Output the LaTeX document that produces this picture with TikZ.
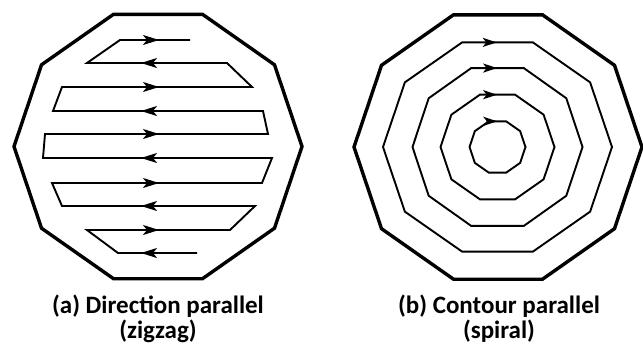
\documentclass[tikz,border=0pt]{standalone}
\usepackage{fontspec}
\setmainfont{Carlito}
\usetikzlibrary{arrows.meta,decorations.markings}

\begin{document}
\begin{tikzpicture}[
		x=1pt, y=-1pt,
		line join=miter,
		border/.style={line width=3.4pt},
		pass/.style={line width=1.9pt},
		flowtip/.style={
			line width=1.9pt,
			-{Stealth[length=16pt,width=10pt,inset=4pt]}
		},
		ringtip/.style={
			postaction={decorate},
			decoration={markings,
				mark=at position 0.05 with {\arrow{Stealth[length=14pt,width=9pt,inset=3.5pt]}}}
		},
		caption/.style={font=\bfseries\fontsize{25}{27}\selectfont, anchor=base}
	]
		\useasboundingbox (0,0) rectangle (643,343);

		\draw[border] plot[samples at={108,72,...,-216}]
			({158+144*cos(\x)},{146.5-139*sin(\x)}) -- cycle;
		\draw[pass] (197,253) -- (118,253) -- (87,230) -- (230,230)
			-- (255,206) -- (62,206) -- (52,183) -- (262,183)
			-- (272,158) -- (43,158) -- (45,134) -- (268,134)
			-- (263,111) -- (53,111) -- (62,87) -- (252,87)
			-- (227,63) -- (87,63) -- (120,40) -- (190,40);
		\foreach \y in {40,87,134,183,230}
			\draw[flowtip] (143,\y) -- (159,\y);
		\foreach \y in {63,111,158,206,253}
			\draw[flowtip] (157,\y) -- (141,\y);

		\draw[border] plot[samples at={108,72,...,-216}]
			({498+144*cos(\x)},{147-139*sin(\x)}) -- cycle;
		\foreach \rx/\ry in {114.5/110,85/83,57/55,28/27}
			\draw[pass, ringtip] plot[samples at={108,72,...,-216}]
				({497.5+\rx*cos(\x)},{147-\ry*sin(\x)}) -- cycle;

		\node[caption] (capA) at (158,313) {(a) Direction parallel};
		\node[caption] (capA2) at (158,338) {(zigzag)};
		\node[caption] (capB) at (499,313) {(b) Contour parallel};
		\node[caption] (capB2) at (499,338) {(spiral)};
	\end{tikzpicture}
\end{document}
